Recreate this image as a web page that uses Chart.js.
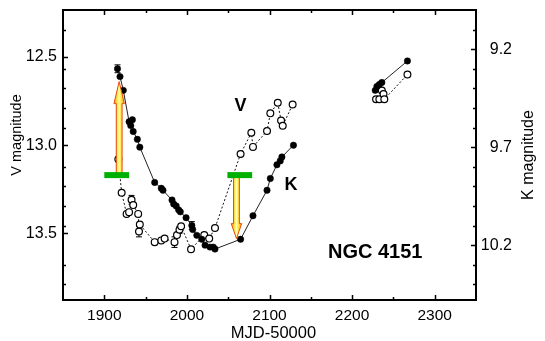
<!DOCTYPE html>
<html><head><meta charset="utf-8">
<script src="https://cdn.jsdelivr.net/npm/chart.js@4/dist/chart.umd.min.js"></script>
<style>html,body{margin:0;padding:0;background:#fff;}canvas{display:block;}</style>
</head><body>
<canvas id="c" width="545" height="341"></canvas>
<script>
// ---- data (MJD-50000, magnitudes) ----
const kDates = [1916,1919,1923,1930,1932,1934,1935,1940,1943,1961,1969,1971,1982,1984,1987,1990,1992,1999,2006,2007,2012,2018,2022,2028,2032,2034,2065,2080,2097,2101,2109,2113,2115,2129,2228,2230,2233,2236,2267];
const kMags  = [9.30,9.34,9.41,9.57,9.59,9.56,9.62,9.66,9.70,9.88,9.91,9.92,9.97,9.99,10.00,10.02,10.03,10.06,10.10,10.12,10.15,10.17,10.20,10.21,10.21,10.22,10.17,10.05,9.92,9.86,9.79,9.77,9.75,9.69,9.41,9.39,9.38,9.37,9.26];
const kErr   = [0.02,0,0,0,0,0,0,0,0,0,0,0,0,0,0,0,0,0,0.02,0,0,0,0,0,0,0,0,0,0,0,0,0,0,0,0,0,0,0,0];
const vDates = [1917,1921,1927,1930,1933,1935,1941,1942,1943,1961,1969,1973,1985,1988,1991,1993,2005,2021,2027,2034,2065,2078,2080,2097,2101,2110,2114,2116,2128,2229,2233,2236,2238,2239,2267];
const vMags  = [13.08,13.27,13.39,13.38,13.31,13.34,13.39,13.49,13.45,13.55,13.54,13.53,13.55,13.51,13.48,13.46,13.59,13.51,13.53,13.47,13.05,12.93,13.01,12.92,12.82,12.76,12.86,12.89,12.77,12.74,12.74,12.69,12.71,12.74,12.60];
const vErr   = [0,0,0,0,0.025,0,0,0.03,0,0,0,0,0.03,0,0.02,0,0,0,0,0,0,0,0,0,0,0,0,0,0,0,0,0,0,0,0];
const xTicks = [1900,2000,2100,2200,2300];
const vTicks = [12.5,13.0,13.5];
const kTicks = [9.2,9.7,10.2];
const xRange = [1850,2350];
const vRange = [12.234,13.878];
const kRange = [9.0,10.48];
// annotations (data units: MJD, V magnitude)
const barStart = [1900,2049];
const barEnd   = [1930,2079];
const barLevel = [13.17,13.17];
const arrowX   = [1918,2060];
const arrowTo  = [12.64,13.53];
const labelText = ['V','K','NGC 4151'];
const labelX    = [2065,2126,2228];
const labelVal  = [12.78,9.894,13.61];
const labelAxis = ['yV','yK','yV'];

function series(d, m) {
  const out = [];
  for (let i = 0; i < d.length; i++) {
    if (i > 0 && d[i] - d[i-1] > 60) out.push({x: (d[i] + d[i-1]) / 2, y: null});
    out.push({x: d[i], y: m[i]});
  }
  return out;
}

const FONT = "'Liberation Sans', Arial, Helvetica, sans-serif";

const decor = {
  id: 'decor',
  beforeDatasetsDraw(chart) {
    const ctx = chart.ctx, sx = chart.scales.x;
    ctx.save();
    ctx.strokeStyle = '#000'; ctx.lineWidth = 1;
    const eb = (dates, mags, errs, sy) => {
      for (let i = 0; i < dates.length; i++) {
        if (!errs[i]) continue;
        const px = sx.getPixelForValue(dates[i]);
        const y1 = sy.getPixelForValue(mags[i] - errs[i]);
        const y2 = sy.getPixelForValue(mags[i] + errs[i]);
        ctx.beginPath();
        ctx.moveTo(px, y1); ctx.lineTo(px, y2);
        ctx.moveTo(px - 3, y1); ctx.lineTo(px + 3, y1);
        ctx.moveTo(px - 3, y2); ctx.lineTo(px + 3, y2);
        ctx.stroke();
      }
    };
    eb(kDates, kMags, kErr, chart.scales.yK);
    eb(vDates, vMags, vErr, chart.scales.yV);
    ctx.restore();
  },
  afterDatasetsDraw(chart) {
    const ctx = chart.ctx, sx = chart.scales.x, sv = chart.scales.yV;
    ctx.save();
    // arrows
    const headLen = [22, 15];
    for (let i = 0; i < arrowX.length; i++) {
      const px = sx.getPixelForValue(arrowX[i]);
      const y0 = sv.getPixelForValue(barLevel[i]);
      const y1 = sv.getPixelForValue(arrowTo[i]);
      const dir = y1 < y0 ? -1 : 1;
      const hw = 5.2, sw = 2.9, hl = headLen[i];
      const yb = y1 - dir * hl;
      const g = ctx.createLinearGradient(px - hw, 0, px + hw, 0);
      g.addColorStop(0, '#ff9a1a'); g.addColorStop(0.35, '#ffee55');
      g.addColorStop(0.5, '#ffffa8'); g.addColorStop(0.65, '#ffee55'); g.addColorStop(1, '#ff9a1a');
      ctx.beginPath();
      ctx.moveTo(px - sw, y0); ctx.lineTo(px - sw, yb); ctx.lineTo(px - hw, yb);
      ctx.lineTo(px, y1); ctx.lineTo(px + hw, yb); ctx.lineTo(px + sw, yb);
      ctx.lineTo(px + sw, y0); ctx.closePath();
      ctx.fillStyle = g; ctx.fill();
      ctx.strokeStyle = '#e8480a'; ctx.lineWidth = 1; ctx.stroke();
    }
    // green bars
    ctx.fillStyle = '#00b000';
    for (let i = 0; i < barStart.length; i++) {
      const a = sx.getPixelForValue(barStart[i]), b = sx.getPixelForValue(barEnd[i]);
      const y = sv.getPixelForValue(barLevel[i]);
      ctx.fillRect(a, y - 3, b - a, 6);
    }
    // in-plot labels
    ctx.fillStyle = '#000'; ctx.textAlign = 'center'; ctx.textBaseline = 'middle';
    const sizes = [18, 18, 20];
    for (let i = 0; i < labelText.length; i++) {
      ctx.font = 'bold ' + sizes[i] + 'px ' + FONT;
      ctx.fillText(labelText[i], sx.getPixelForValue(labelX[i]), chart.scales[labelAxis[i]].getPixelForValue(labelVal[i]));
    }
    ctx.restore();
  },
  afterDraw(chart) {
    const ctx = chart.ctx, a = chart.chartArea;
    const sx = chart.scales.x, sv = chart.scales.yV, sk = chart.scales.yK;
    ctx.save();
    ctx.strokeStyle = '#000'; ctx.lineWidth = 1.5;
    ctx.beginPath();
    for (let v = xRange[0] + 50; v < xRange[1]; v += 50) {
      const len = (v % 100 === 0) ? 5 : 3;
      const px = Math.round(sx.getPixelForValue(v)) + 0.5;
      ctx.moveTo(px, a.bottom); ctx.lineTo(px, a.bottom - len);
      ctx.moveTo(px, a.top); ctx.lineTo(px, a.top + len);
    }
    for (let i = 1; i < 15; i++) {
      const v = Math.round((kRange[0] + i * 0.1) * 10) / 10;
      const major = kTicks.some(t => Math.abs(t - v) < 1e-6);
      const py = Math.round(sk.getPixelForValue(v)) + 0.5;
      ctx.moveTo(a.right, py); ctx.lineTo(a.right - (major ? 5 : 3), py);
      if (!major) { ctx.moveTo(a.left, py); ctx.lineTo(a.left + 3, py); }
    }
    vTicks.forEach(v => {
      const py = Math.round(sv.getPixelForValue(v)) + 0.5;
      ctx.moveTo(a.left, py); ctx.lineTo(a.left + 5, py);
    });
    ctx.stroke();
    ctx.lineWidth = 2;
    ctx.strokeRect(a.left, a.top, a.right - a.left, a.bottom - a.top);
    // axis titles
    ctx.fillStyle = '#000'; ctx.textAlign = 'center'; ctx.textBaseline = 'middle';
    ctx.font = '16.5px ' + FONT;
    ctx.fillText('MJD-50000', (a.left + a.right) / 2 + 4, 333);
    ctx.save(); ctx.translate(17, 135); ctx.rotate(-Math.PI / 2);
    ctx.font = '14.5px ' + FONT; ctx.fillText('V magnitude', 0, 0); ctx.restore();
    ctx.save(); ctx.translate(529, (a.top + a.bottom) / 2); ctx.rotate(-Math.PI / 2);
    ctx.font = '16px ' + FONT; ctx.fillText('K magnitude', 0, 0); ctx.restore();
    ctx.restore();
  }
};

const noPad = s => { s.paddingTop = 0; s.paddingBottom = 0; s.paddingLeft = 0; s.paddingRight = 0; };

new Chart(document.getElementById('c'), {
  type: 'scatter',
  data: {
    datasets: [
      { label: 'K', data: series(kDates, kMags), yAxisID: 'yK', showLine: true, spanGaps: false,
        borderColor: '#222', borderWidth: 1, backgroundColor: '#000', pointBorderColor: '#000',
        pointRadius: 3.2, pointBorderWidth: 0.5 },
      { label: 'V', data: series(vDates, vMags), yAxisID: 'yV', showLine: true, spanGaps: false,
        borderColor: '#111', borderWidth: 1, borderDash: [2, 2], backgroundColor: '#fff',
        pointBorderColor: '#000', pointBackgroundColor: '#fff', pointRadius: 3.4, pointBorderWidth: 1.2 }
    ]
  },
  options: {
    responsive: false, animation: false, devicePixelRatio: 1,
    layout: { padding: { top: 10, left: 0, right: 33, bottom: 0 } },
    plugins: { legend: { display: false }, tooltip: { enabled: false } },
    scales: {
      x: {
        type: 'linear', position: 'bottom', min: xRange[0], max: xRange[1],
        grid: { display: false, drawTicks: false }, border: { display: false },
        afterBuildTicks: s => { s.ticks = xTicks.map(v => ({ value: v })); },
        afterFit: s => { s.height = 41; noPad(s); },
        ticks: { padding: 6, color: '#000', font: { family: FONT, size: 15.5 }, maxRotation: 0, callback: v => String(v) }
      },
      yV: {
        type: 'linear', position: 'left', reverse: true, min: vRange[0], max: vRange[1],
        grid: { display: false, drawTicks: false }, border: { display: false },
        afterBuildTicks: s => { s.ticks = vTicks.map(v => ({ value: v })); },
        afterFit: s => { s.width = 63; noPad(s); },
        ticks: { padding: 6, color: '#000', font: { family: FONT, size: 16 }, callback: v => Number(v).toFixed(1) }
      },
      yK: {
        type: 'linear', position: 'right', reverse: true, min: kRange[0], max: kRange[1],
        grid: { display: false, drawTicks: false }, border: { display: false },
        afterBuildTicks: s => { s.ticks = kTicks.map(v => ({ value: v })); },
        afterFit: s => { s.width = 36; noPad(s); },
        ticks: { padding: 4, crossAlign: 'far', color: '#000', font: { family: FONT, size: 16 }, callback: v => Number(v).toFixed(1) }
      }
    }
  },
  plugins: [decor]
});
</script>
</body></html>
